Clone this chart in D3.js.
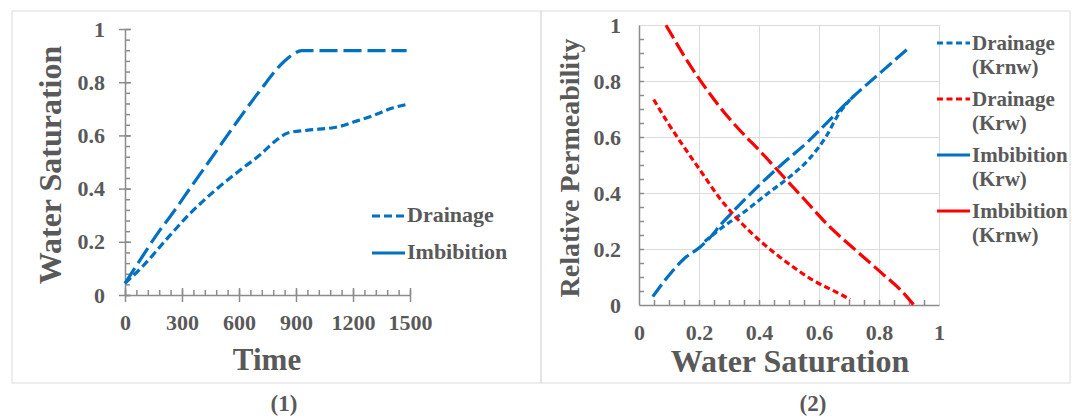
<!DOCTYPE html>
<html>
<head>
<meta charset="utf-8">
<script src="https://cdn.jsdelivr.net/npm/d3@7"></script>
<style>
  body { margin: 0; background: #fff; }
  text { font-family: "Liberation Serif", "Times New Roman", serif; font-weight: bold; fill: #595959; }
</style>
</head>
<body>
<div id="chart"></div>
<script>
// ---- panel (1): water saturation vs time ----
const timeImb = [0, 79, 184, 237, 351, 465, 588, 711, 833, 886, 930, 1100, 1300, 1482];
const swImb   = [0.044, 0.131, 0.244, 0.294, 0.41, 0.525, 0.65, 0.769, 0.875, 0.906, 0.919, 0.919, 0.919, 0.919];
const timeDra = [0, 96, 219, 342, 482, 605, 711, 798, 860, 956, 1132, 1202, 1307, 1412, 1482];
const swDra   = [0.044, 0.11, 0.21, 0.306, 0.398, 0.469, 0.527, 0.583, 0.61, 0.619, 0.634, 0.65, 0.675, 0.704, 0.716];
const timeTicks = [0, 300, 600, 900, 1200, 1500];
const satTicks = [0, 0.2, 0.4, 0.6, 0.8, 1];

// ---- panel (2): relative permeability vs water saturation ----
const swImbKrw  = [0.046, 0.096, 0.152, 0.205, 0.235, 0.275, 0.319, 0.397, 0.481, 0.565, 0.632, 0.71, 0.805, 0.9];
const imbKrw    = [0.03, 0.101, 0.167, 0.208, 0.239, 0.29, 0.34, 0.424, 0.507, 0.585, 0.657, 0.74, 0.83, 0.919];
const swDraKrnw = [0.219, 0.275, 0.353, 0.431, 0.498, 0.565, 0.621, 0.665, 0.715];
const draKrnw   = [0.227, 0.275, 0.334, 0.4, 0.454, 0.519, 0.597, 0.681, 0.746];
const swImbKrnw = [0.09, 0.113, 0.163, 0.224, 0.302, 0.353, 0.403, 0.475, 0.554, 0.632, 0.721, 0.81, 0.877, 0.916];
const imbKrnw   = [0.999, 0.957, 0.868, 0.772, 0.665, 0.605, 0.55, 0.466, 0.374, 0.283, 0.197, 0.113, 0.048, 0.0];
const swDraKrw  = [0.049, 0.096, 0.152, 0.208, 0.263, 0.319, 0.375, 0.453, 0.52, 0.587, 0.654, 0.704];
const draKrw    = [0.734, 0.651, 0.561, 0.475, 0.39, 0.318, 0.257, 0.185, 0.131, 0.084, 0.048, 0.02];
const relTicks = [0, 0.2, 0.4, 0.6, 0.8, 1];

const blue = "#0070C0", red = "#FF0000", axisGray = "#8c8c8c";
const shortDash = "8,4", longDash = "18,6", shortDash2 = "6,3.5", longDash2 = "15,5";

const svg = d3.select("#chart").append("svg")
    .attr("width", 1079).attr("height", 420);

// panel frames
svg.append("rect").attr("x", 12).attr("y", 11).attr("width", 529).attr("height", 372)
    .attr("fill", "none").attr("stroke", "#dcdcdc");
svg.append("rect").attr("x", 541).attr("y", 11).attr("width", 529).attr("height", 372)
    .attr("fill", "none").attr("stroke", "#dcdcdc");

let zip = (xs, ys) => xs.map((d, i) => [d, ys[i]]);

// ===== panel 1 =====
var x1 = d3.scaleLinear().domain([0, 1500]).range([125, 410]);
var y1 = d3.scaleLinear().domain([0, 1]).range([295, 29]);
var g1 = svg.append("g");

// minor ticks
g1.append("g").attr("transform", "translate(0,295)")
    .call(d3.axisTop(x1).tickValues(d3.range(0, 1501, 60)).tickSize(5).tickFormat("").tickSizeOuter(0))
    .call(g => g.select(".domain").remove());
g1.append("g").attr("transform", "translate(125,0)")
    .call(d3.axisRight(y1).tickValues(d3.range(0, 1.001, 0.04)).tickSize(5).tickFormat("").tickSizeOuter(0))
    .call(g => g.select(".domain").remove());

// major
var xa1 = g1.append("g").attr("transform", "translate(0,295)")
    .call(d3.axisBottom(x1).tickValues(timeTicks).tickSize(7).tickSizeOuter(0).tickPadding(12).tickFormat(d3.format("d")));
xa1.selectAll(".tick line").attr("y1", -7);
var ya1 = g1.append("g").attr("transform", "translate(125,0)")
    .call(d3.axisLeft(y1).tickValues(satTicks).tickSize(6).tickSizeOuter(0).tickPadding(14).tickFormat(d3.format("~g")));
ya1.selectAll(".tick line").attr("x1", 6);
g1.selectAll(".domain, .tick line").attr("stroke", axisGray).attr("stroke-width", 1.5);
g1.selectAll("g").attr("font-family", null).attr("font-size", null);
g1.selectAll(".tick text").attr("font-size", 22).attr("fill", null);

var line1 = d3.line().x(d => x1(d[0])).y(d => y1(d[1])).curve(d3.curveMonotoneX);
g1.append("path").datum(zip(timeImb, swImb)).attr("d", line1)
    .attr("fill", "none").attr("stroke", blue).attr("stroke-width", 3.2).attr("stroke-dasharray", longDash);
g1.append("path").datum(zip(timeDra, swDra)).attr("d", line1)
    .attr("fill", "none").attr("stroke", blue).attr("stroke-width", 3.2).attr("stroke-dasharray", shortDash);

g1.append("text").attr("transform", "translate(61,165) rotate(-90)")
    .attr("text-anchor", "middle").attr("font-size", 32).text("Water Saturation");
g1.append("text").attr("x", 267).attr("y", 370).attr("text-anchor", "middle")
    .attr("font-size", 31).text("Time");

// legend 1
var leg1 = [{name: "Drainage", dash: shortDash, y: 222}, {name: "Imbibition", dash: null, y: 259}];
leg1.forEach(function(l) {
    g1.append("line").attr("x1", 372).attr("x2", 405).attr("y1", l.y - 6).attr("y2", l.y - 6)
        .attr("stroke", blue).attr("stroke-width", 3.2).attr("stroke-dasharray", l.dash);
    g1.append("text").attr("x", 407).attr("y", l.y).attr("font-size", 22).text(l.name);
});

// ===== panel 2 =====
var x2 = d3.scaleLinear().domain([0, 1]).range([639, 939]);
var y2 = d3.scaleLinear().domain([0, 1]).range([305, 25]);
var g2 = svg.append("g");

// gridlines
g2.append("g").attr("transform", "translate(0,305)")
    .call(d3.axisBottom(x2).tickValues(relTicks.slice(1)).tickSize(-280).tickFormat(""))
    .call(g => g.select(".domain").remove())
    .selectAll("line").attr("stroke", "#dcdcdc");
g2.append("g").attr("transform", "translate(639,0)")
    .call(d3.axisLeft(y2).tickValues(relTicks.slice(1)).tickSize(-300).tickFormat(""))
    .call(g => g.select(".domain").remove())
    .selectAll("line").attr("stroke", "#dcdcdc");

// minor ticks
var mt = g2.append("g");
mt.append("g").attr("transform", "translate(0,305)")
    .call(d3.axisTop(x2).tickValues(d3.range(0.05, 1.0, 0.05)).tickSize(5).tickFormat("").tickSizeOuter(0))
    .call(g => g.select(".domain").remove());
mt.append("g").attr("transform", "translate(639,0)")
    .call(d3.axisRight(y2).tickValues(d3.range(0.05, 1.0, 0.05)).tickSize(5).tickFormat("").tickSizeOuter(0))
    .call(g => g.select(".domain").remove());
mt.selectAll("line").attr("stroke", axisGray).attr("stroke-width", 1.5);

var xa2 = g2.append("g").attr("transform", "translate(0,305)")
    .call(d3.axisBottom(x2).tickValues(relTicks).tickSize(0).tickSizeOuter(0).tickPadding(19).tickFormat(d3.format("~g")));
var ya2 = g2.append("g").attr("transform", "translate(639,0)")
    .call(d3.axisLeft(y2).tickValues(relTicks).tickSize(0).tickSizeOuter(0).tickPadding(18).tickFormat(d3.format("~g")));
g2.selectAll(".domain").attr("stroke", axisGray).attr("stroke-width", 1.5);
g2.selectAll("g").attr("font-family", null).attr("font-size", null);
g2.selectAll(".tick text").attr("font-size", 22).attr("fill", null);

var line2 = d3.line().x(d => x2(d[0])).y(d => y2(d[1])).curve(d3.curveMonotoneX);
var series2 = [
    {xs: swImbKrw, ys: imbKrw, color: blue, dash: longDash2},
    {xs: swDraKrnw, ys: draKrnw, color: blue, dash: shortDash2},
    {xs: swImbKrnw, ys: imbKrnw, color: red, dash: longDash2},
    {xs: swDraKrw, ys: draKrw, color: red, dash: shortDash2}
];
series2.forEach(function(s) {
    g2.append("path").datum(zip(s.xs, s.ys)).attr("d", line2)
        .attr("fill", "none").attr("stroke", s.color).attr("stroke-width", 3.2).attr("stroke-dasharray", s.dash);
});

g2.append("text").attr("transform", "translate(579,168) rotate(-90)")
    .attr("text-anchor", "middle").attr("font-size", 28).text("Relative Permeability");
g2.append("text").attr("x", 790).attr("y", 372).attr("text-anchor", "middle")
    .attr("font-size", 32).text("Water Saturation");

// legend 2
var leg2 = [
    {a: "Drainage", b: "(Krnw)", color: blue, dash: shortDash2, y: 50},
    {a: "Drainage", b: "(Krw)", color: red, dash: shortDash2, y: 106},
    {a: "Imbibition", b: "(Krw)", color: blue, dash: null, y: 162},
    {a: "Imbibition", b: "(Krnw)", color: red, dash: null, y: 218}
];
leg2.forEach(function(l) {
    g2.append("line").attr("x1", 937).attr("x2", 970).attr("y1", l.y - 7).attr("y2", l.y - 7)
        .attr("stroke", l.color).attr("stroke-width", 3.2).attr("stroke-dasharray", l.dash);
    g2.append("text").attr("x", 972).attr("y", l.y).attr("font-size", 21).text(l.a);
    g2.append("text").attr("x", 972).attr("y", l.y + 24).attr("font-size", 21).text(l.b);
});

// panel captions
svg.append("text").attr("x", 284).attr("y", 411).attr("text-anchor", "middle").attr("font-size", 23).attr("fill", "#111").text("(1)");
svg.append("text").attr("x", 813).attr("y", 411).attr("text-anchor", "middle").attr("font-size", 23).attr("fill", "#111").text("(2)");
</script>
</body>
</html>
